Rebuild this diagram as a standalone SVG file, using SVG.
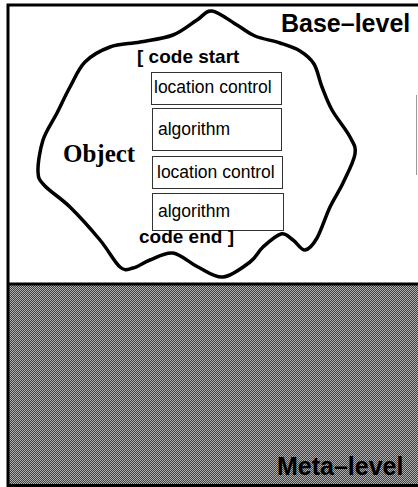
<svg xmlns="http://www.w3.org/2000/svg" width="418" height="487" viewBox="0 0 418 487">
<defs>
<pattern id="dither" width="2" height="2" patternUnits="userSpaceOnUse">
<rect width="2" height="2" fill="#424242"/>
<rect width="1" height="1" fill="#adadad"/>
<rect x="1" y="1" width="1" height="1" fill="#adadad"/>
</pattern>
</defs>
<style>
.frame{fill:none;stroke:#000;stroke-width:3}
.blob{fill:#fff;stroke:#000;stroke-width:3.5;stroke-linejoin:round}
.box{fill:#fff;stroke:#333;stroke-width:1}
.lvl{font-family:"Liberation Sans",Arial,sans-serif;font-weight:bold;font-size:25px;fill:#000}
.code{font-family:"Liberation Sans",Arial,sans-serif;font-weight:bold;font-size:19px;fill:#000}
.item{font-family:"Liberation Sans",Arial,sans-serif;font-size:17.5px;fill:#000}
.obj{font-family:"Liberation Serif","Times New Roman",serif;font-weight:bold;font-size:25px;fill:#000}
</style>
<rect x="0" y="0" width="418" height="487" fill="#fff"/>
<g id="meta-level">
<rect x="9" y="285" width="409" height="200" fill="url(#dither)"/>
<line class="frame" x1="8" y1="485.5" x2="418" y2="485.5"/>
<text class="lvl" x="277" y="475">Meta–level</text>
</g>
<g id="base-level">
<path class="frame" d="M8 487 V5 H418"/>
<line class="frame" x1="8" y1="284" x2="418" y2="284"/>
<line x1="416.5" y1="95" x2="416.5" y2="175" stroke="#999" stroke-width="1"/>
<text class="lvl" x="281" y="32">Base–level</text>
</g>
<g id="object">
<path class="blob" d="M212 11 C218.67 11.83 229.83 20.83 237 25 C244.17 29.17 247.83 33 255 36 C262.17 39 272.5 40.5 280 43 C287.5 45.5 294.33 47.5 300 51 C305.67 54.5 310.33 58 314 64 C317.670 70 319 79.33 322 87 C325 94.67 327.33 101.67 332 110 C336.67 118.33 346.17 129.67 350 137 C353.83 144.33 356.17 146.33 355 154 C353.83 161.67 347.17 174.17 343 183 C338.83 191.83 334.33 197.83 330 207 C325.67 216.17 321.17 230.83 317 238 C312.83 245.17 309 249.67 305 250 C301 250.33 297 242.67 293 240 C289 237.33 286 232.83 281 234 C276 235.17 268.17 242.33 263 247 C257.83 251.67 256.67 257 250 262 C243.33 267 231.67 276.17 223 277 C214.33 277.83 206.33 271 198 267 C189.67 263 181 254.17 173 253 C165 251.83 156.67 257.5 150 260 C143.33 262.5 138 266.83 133 268 C128 269.17 125.5 271.67 120 267 C114.5 262.33 108.33 250 100 240 C91.67 230 79.17 216 70 207 C60.83 198 50.33 191.83 45 186 C39.67 180.17 38.33 179.67 38 172 C37.67 164.33 39.83 149.83 43 140 C46.17 130.17 52.5 121.83 57 113 C61.5 104.17 65.33 95.5 70 87 C74.67 78.5 78.33 68.67 85 62 C91.67 55.33 100.83 50.33 110 47 C119.17 43.67 129.5 44 140 42 C150.5 40 163.5 38.67 173 35 C182.5 31.33 190.5 24 197 20 C203.5 16 205.33 10.17 212 11 Z"/>
<text class="obj" x="63" y="162">Object</text>
</g>
<g id="code-start"><text class="code" x="137" y="63">[ code start</text></g>
<g id="box1"><rect class="box" x="151.5" y="72.5" width="130" height="32"/><text class="item" x="154" y="93">location control</text></g>
<g id="box2"><rect class="box" x="152.5" y="108.5" width="129" height="42"/><text class="item" x="158" y="135">algorithm</text></g>
<g id="box3"><rect class="box" x="152.5" y="156.5" width="130" height="32"/><text class="item" x="157" y="178">location control</text></g>
<g id="box4"><rect class="box" x="152.5" y="193.5" width="131" height="37"/><text class="item" x="158" y="217">algorithm</text></g>
<g id="code-end"><text class="code" x="139" y="243">code end ]</text></g>
<g id="connectors"/>
</svg>
